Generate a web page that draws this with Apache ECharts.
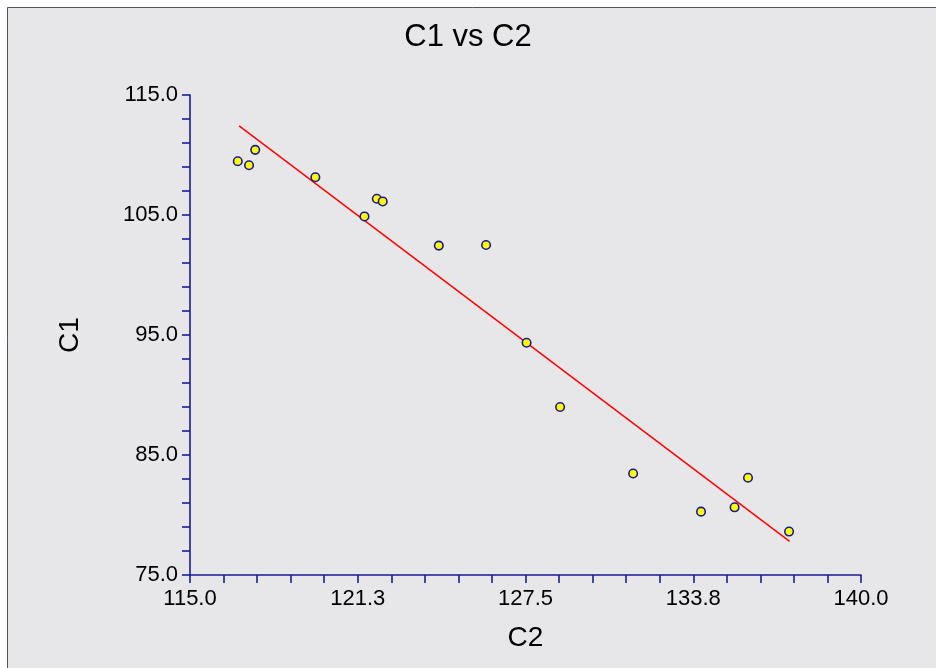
<!DOCTYPE html>
<html>
<head>
<meta charset="utf-8">
<title>C1 vs C2</title>
<script src="https://cdn.jsdelivr.net/npm/echarts@6/dist/echarts.min.js"></script>
<style>
  html, body { margin: 0; padding: 0; background: #ffffff; }
  #chart { width: 936px; height: 668px; }
</style>
</head>
<body>
<div id="chart"></div>
<script>
// Observations: C2 (horizontal) and C1 (vertical)
var c2Values = [116.78, 117.20, 117.43, 119.67, 121.50, 121.96, 122.18, 124.27,
                126.03, 127.54, 128.79, 131.51, 134.04, 135.29, 135.79, 137.32];
var c1Values = [109.48, 109.15, 110.43, 108.15, 104.88, 106.35, 106.13, 102.45,
                102.50, 94.35, 89.00, 83.46, 80.28, 80.64, 83.10, 78.62];

// Fitted line end points
var fitC2 = [116.83, 137.34];
var fitC1 = [112.42, 77.81];

// Axis ranges and labels
var xMin = 115, xMax = 140;
var yMin = 75, yMax = 115;
var xLabelValues = [115, 121.25, 127.5, 133.75, 140];
var xTickLabels = ['115.0', '121.3', '127.5', '133.8', '140.0'];
var yLabelValues = [75, 85, 95, 105, 115];
var yTickLabels = ['75.0', '85.0', '95.0', '105.0', '115.0'];

// Five minor steps between labelled values
function tickPositions(labelValues) {
  var out = [];
  for (var i = 0; i < labelValues.length - 1; i++) {
    var step = (labelValues[i + 1] - labelValues[i]) / 5;
    for (var k = 0; k < 5; k++) out.push(labelValues[i] + k * step);
  }
  out.push(labelValues[labelValues.length - 1]);
  return out;
}

function labelFor(values, labels) {
  return function (v) {
    for (var i = 0; i < values.length; i++) {
      if (Math.abs(values[i] - v) < 1e-6) return labels[i];
    }
    return '';
  };
}

var FONT = "'Liberation Sans', Arial, sans-serif";
var AXIS_COLOR = '#1c1c94';

var scatterData = c2Values.map(function (x, i) { return [x, c1Values[i]]; });
var fitData = fitC2.map(function (x, i) { return [x, fitC1[i]]; });

var chart = echarts.init(document.getElementById('chart'), null, { renderer: 'canvas' });

chart.setOption({
  animation: false,
  backgroundColor: '#ffffff',
  graphic: [{
    type: 'rect',
    left: 7, top: 7, z: -10,
    shape: { width: 940, height: 670 },
    style: { fill: '#e7e7e9', stroke: '#555555', lineWidth: 1 }
  }],
  title: {
    text: 'C1 vs C2',
    left: 'center',
    top: 17,
    textStyle: { fontFamily: FONT, fontSize: 31, fontWeight: 'normal', color: '#000000' }
  },
  grid: { left: 190, right: 75, top: 95, bottom: 93, containLabel: false },
  xAxis: {
    type: 'value',
    min: xMin, max: xMax,
    name: 'C2',
    nameLocation: 'middle',
    nameGap: 49,
    nameTextStyle: { fontFamily: FONT, fontSize: 28, color: '#000000' },
    axisLine: { show: true, onZero: false, lineStyle: { color: AXIS_COLOR, width: 1.6 } },
    axisTick: { show: true, inside: false, length: 8, customValues: tickPositions(xLabelValues),
                lineStyle: { color: AXIS_COLOR, width: 1.6 } },
    axisLabel: { show: true, margin: 13, customValues: xLabelValues,
                 formatter: labelFor(xLabelValues, xTickLabels),
                 fontFamily: FONT, fontSize: 22, color: '#000000' },
    splitLine: { show: false }
  },
  yAxis: {
    type: 'value',
    min: yMin, max: yMax,
    name: 'C1',
    nameLocation: 'middle',
    nameRotate: 90,
    nameGap: 106,
    nameTextStyle: { fontFamily: FONT, fontSize: 28, color: '#000000' },
    axisLine: { show: true, onZero: false, lineStyle: { color: AXIS_COLOR, width: 1.6 } },
    axisTick: { show: true, inside: false, length: 8, customValues: tickPositions(yLabelValues),
                lineStyle: { color: AXIS_COLOR, width: 1.6 } },
    axisLabel: { show: true, margin: 12, customValues: yLabelValues,
                 formatter: labelFor(yLabelValues, yTickLabels),
                 fontFamily: FONT, fontSize: 22, color: '#000000' },
    splitLine: { show: false }
  },
  series: [
    {
      type: 'line',
      data: fitData,
      symbol: 'none',
      lineStyle: { color: '#ff0000', width: 1.5 },
      z: 2
    },
    {
      type: 'scatter',
      data: scatterData,
      symbol: 'circle',
      symbolSize: 8.5,
      itemStyle: { color: '#ffff00', borderColor: '#1a1a8c', borderWidth: 1.6, opacity: 1 },
      z: 3
    }
  ]
});
</script>
</body>
</html>
